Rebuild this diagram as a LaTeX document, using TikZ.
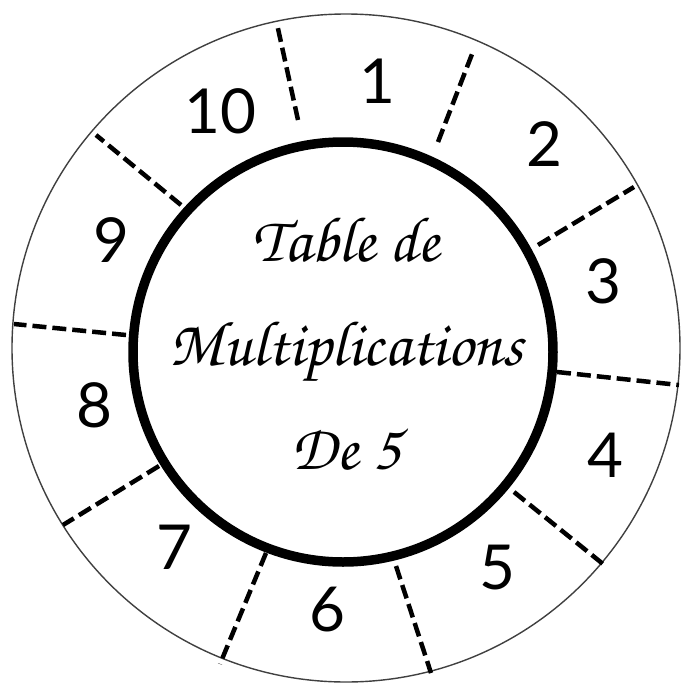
\documentclass[tikz,border=0pt]{standalone}
\usepackage{fontspec}
\newfontfamily\numfont{Lato}
\newfontfamily\titlefont{TeX Gyre Chorus}

\begin{document}
\begin{tikzpicture}[x=1pt, y=-1pt,
                    cut/.style={line width=4.5pt, dash pattern=on 14pt off 6pt},
                    num/.style={font=\numfont\fontsize{62}{62}\selectfont, inner sep=0pt},
                    every node/.style={inner sep=2pt}]
\useasboundingbox (0,0) rectangle (683,691);
\draw[line width=1.4pt, black!75] (346,348) circle[radius=334];
\draw[line width=9.5pt] (343,352) circle[radius=210];
% cuts between the slices
\foreach \ax/\ay/\bx/\by in {298/120/277/24, 438/142/474/49, 538/245/634/187,
    557/372/679/385, 514/492/603/564, 396/566/431/673, 266/553/220/664,
    159/466/63/525, 126/335/14/324, 181/205/96/135}
  \draw[cut] (\ax,\ay) -- (\bx,\by);
% numbers
\foreach \k/\x/\y in {1/377/81, 2/544/144, 3/603/281, 4/605/455, 5/497/568,
    6/327/610, 7/174/547, 8/94/405, 9/111/240, 10/220/111}
  \node[num] (n\k) at (\x,\y) {\k};
\node[font=\titlefont\fontsize{64}{104}\selectfont, align=center] (title)
  at (346,344) {Table de\\Multiplications\\De 5};
\end{tikzpicture}
\end{document}
